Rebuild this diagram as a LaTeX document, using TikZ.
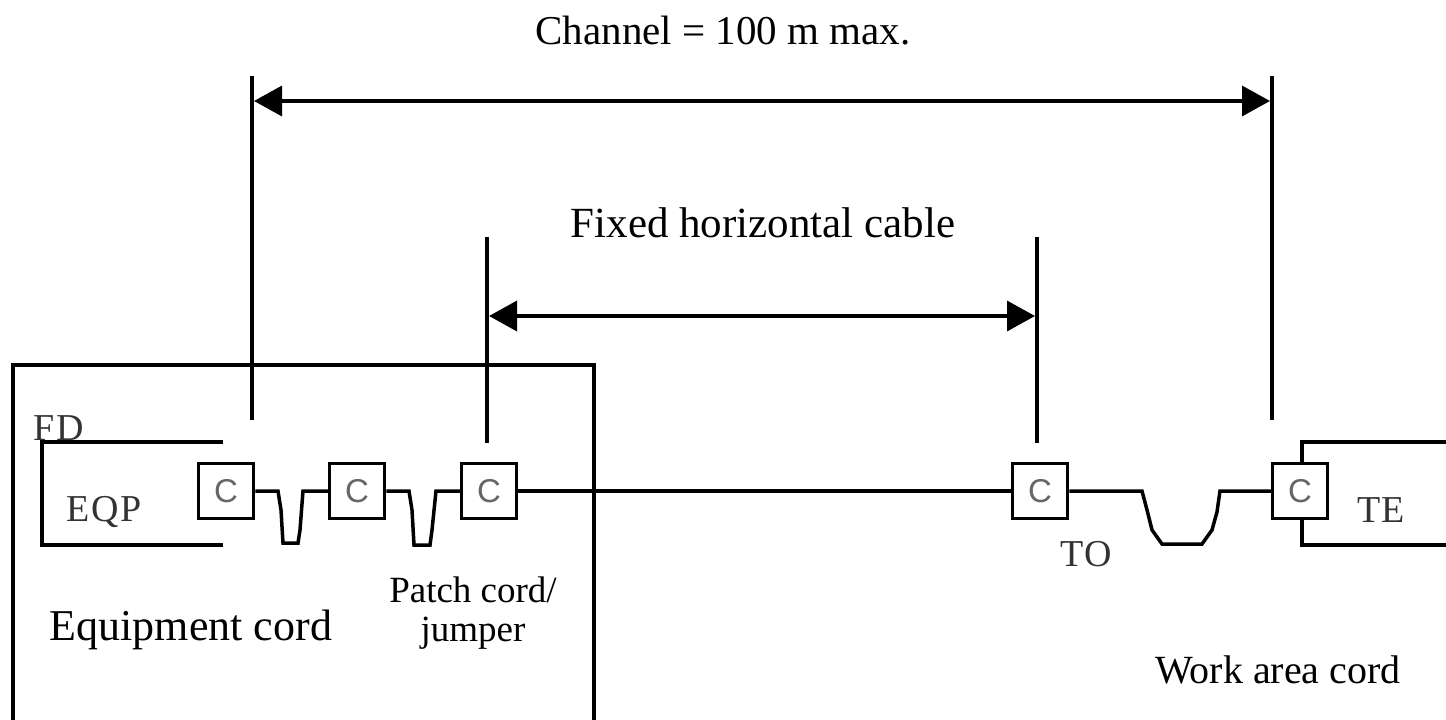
\documentclass[tikz,border=0pt]{standalone}
\usepackage{fontspec}
\setmainfont{Liberation Serif}
\newfontfamily\csans{Liberation Sans}
\newfontfamily\tagfont[LetterSpace=4]{Liberation Serif}
\usetikzlibrary{arrows.meta}
\begin{document}
\begin{tikzpicture}[x=1pt,y=-1pt,line width=3.5pt,
  conn/.style={draw,line width=3.5pt,minimum width=55pt,minimum height=55pt,inner sep=0pt,
    font=\csans\fontsize{33}{33}\selectfont,text=black!60},
  lbl/.style={inner sep=0pt,anchor=base},
  tag/.style={font=\tagfont\fontsize{38}{38}\selectfont,inner sep=0pt,anchor=base,text=black!80},
  dimline/.style={{Triangle[length=28pt,width=30pt]}-{Triangle[length=28pt,width=30pt]},line width=3.5pt}]
\useasboundingbox (0,0) rectangle (1446,720);

% texts
\node[lbl,font=\fontsize{41}{46}\selectfont] (title) at (723,44) {Channel = 100 m max.};
\node[lbl,font=\fontsize{43}{46}\selectfont] (fixed) at (763,237) {Fixed horizontal cable};
\node[lbl,font=\fontsize{44}{46}\selectfont] (equip) at (191,640) {Equipment cord};
\node[lbl,font=\fontsize{37}{38}\selectfont] (patch1) at (473,602) {Patch cord/};
\node[lbl,font=\fontsize{37}{38}\selectfont] (patch2) at (473,641) {jumper};
\node[lbl,font=\fontsize{40}{44}\selectfont] (work) at (1278,683) {Work area cord};

% outer boxes
\draw (13,720) -- (13,365) -- (594,365) -- (594,720);
\draw (223,442) -- (42,442) -- (42,545) -- (223,545);
\draw (1446,442) -- (1302,442) -- (1302,545) -- (1446,545);

\node[tag,anchor=base west] (fd) at (32,440) {FD};
\node[tag] (eqp) at (104,521) {EQP};
\node[tag] (te) at (1381,522) {TE};
\node[tag] (to) at (1086,566) {TO};

% connectors
\node[conn,fill=white] (c1) at (226,491) {C};
\node[conn] (c2) at (357,491) {C};
\node[conn] (c3) at (489,491) {C};
\node[conn] (c4) at (1040,491) {C};
\node[conn,fill=white] (c5) at (1300,491) {C};

% cables
\draw (c1.east) -- (278,491) -- (281,510) -- (283,543) -- (298,543) -- (300,530) -- (303,491) -- (c2.west);
\draw (c2.east) -- (409,491) -- (412,510) -- (414,545) -- (430,545) -- (432,530) -- (436,491) -- (c3.west);
\draw (c3.east) -- (c4.west);
\draw (c4.east) -- (1142,491) -- (1147,510) -- (1152,530) -- (1162,544) -- (1202,544) -- (1212,530) -- (1217,512) -- (1220,491) -- (c5.west);

% dimension lines
\coordinate (a1) at (252,76);
\coordinate (a2) at (252,420);
\coordinate (b1) at (1272,76);
\coordinate (b2) at (1272,420);
\draw (a1) -- (a2);
\draw (b1) -- (b2);
\draw[dimline] (254,101) -- (1270,101);

\coordinate (p1) at (487,237);
\coordinate (p2) at (487,443);
\coordinate (q1) at (1037,237);
\coordinate (q2) at (1037,443);
\draw (p1) -- (p2);
\draw (q1) -- (q2);
\draw[dimline] (489,316) -- (1035,316);
\end{tikzpicture}
\end{document}
